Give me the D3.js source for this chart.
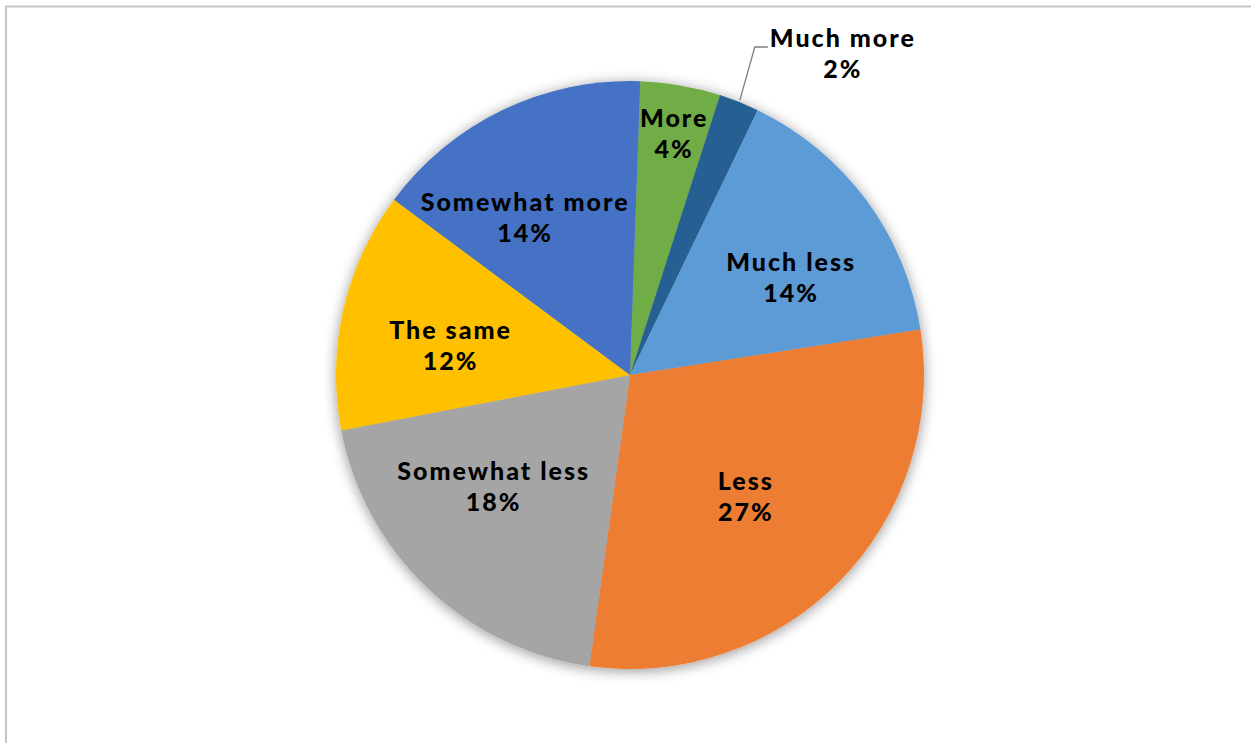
<!DOCTYPE html>
<html>
<head>
<meta charset="utf-8">
<script src="https://cdn.jsdelivr.net/npm/d3@7"></script>
<style>
  html, body { margin: 0; padding: 0; background: #fff; }
  svg { display: block; }
  .lbl { font-family: Lato, "Open Sans", sans-serif; font-weight: 900; font-size: 25px; letter-spacing: 2px; fill: #000; }
</style>
</head>
<body>
<svg id="chart" width="1251" height="743"></svg>
<script>
// Survey answers, clockwise from 12 o'clock
const categories = ["More", "Much more", "Much less", "Less", "Somewhat less", "The same", "Somewhat more"];
const shares = [4, 2, 14, 27, 18, 12, 14];
const percentLabels = ["4%", "2%", "14%", "27%", "18%", "12%", "14%"];
const sliceColors = ["#70AD47", "#255E91", "#5B9BD5", "#ED7D31", "#A5A5A5", "#FFC000", "#4472C4"];

const W = 1251, H = 743;
const cx = 630, cy = 375, R = 294;
const startDeg = 2;

// Nudges for the in-slice labels (pixels), relative to the label arc centroid
const labelNudge = {
  "More": [1, 0],
  "Much less": [14, 11],
  "Less": [-15, -6],
  "Somewhat less": [-12, -20],
  "The same": [-3, 12],
  "Somewhat more": [-27, 7]
};

const svg = d3.select("#chart");

// Chart-area frame (top and left rules)
svg.append("line").attr("x1", 6).attr("x2", W).attr("y1", 6.5).attr("y2", 6.5)
  .attr("stroke", "#c4c4c4").attr("stroke-width", 2);
svg.append("line").attr("x1", 6).attr("x2", 6).attr("y1", 6).attr("y2", H)
  .attr("stroke", "#c4c4c4").attr("stroke-width", 2);

// Soft shadow around the pie
const defs = svg.append("defs");
const f = defs.append("filter").attr("id", "pieShadow")
  .attr("x", "-20%").attr("y", "-20%").attr("width", "140%").attr("height", "140%");
f.append("feGaussianBlur").attr("in", "SourceAlpha").attr("stdDeviation", 7).attr("result", "blur");
f.append("feOffset").attr("in", "blur").attr("dx", 0).attr("dy", 2).attr("result", "off");
f.append("feComponentTransfer").attr("in", "off").attr("result", "soft")
  .append("feFuncA").attr("type", "linear").attr("slope", 0.42);
const merge = f.append("feMerge");
merge.append("feMergeNode").attr("in", "soft");
merge.append("feMergeNode").attr("in", "SourceGraphic");

const data = categories.map((c, i) => ({ cat: c, value: shares[i], pct: percentLabels[i], color: sliceColors[i] }));

const start = startDeg * Math.PI / 180;
const pie = d3.pie().sort(null).value(d => d.value).startAngle(start).endAngle(start + 2 * Math.PI);
const arcs = pie(data);

const arc = d3.arc().innerRadius(0).outerRadius(R);
const labelArc = d3.arc().innerRadius(182).outerRadius(182);
const outerLabelArc = d3.arc().innerRadius(245).outerRadius(245);

const g = svg.append("g").attr("transform", `translate(${cx},${cy})`);

g.append("g").attr("filter", "url(#pieShadow)")
  .selectAll("path").data(arcs).join("path")
  .attr("d", arc)
  .attr("fill", d => d.data.color);

// Labels inside slices
const inside = arcs.filter(d => d.data.cat !== "Much more");
const lbl = g.selectAll("text.in").data(inside).join("text")
  .attr("class", "lbl in")
  .attr("text-anchor", "middle")
  .attr("transform", d => {
    const p = (d.data.cat === "More" ? outerLabelArc : labelArc).centroid(d);
    const n = labelNudge[d.data.cat] || [0, 0];
    return `translate(${p[0] + n[0] + 1},${p[1] + n[1]})`;
  });
lbl.append("tspan").attr("x", 0).attr("y", -7).text(d => d.data.cat);
lbl.append("tspan").attr("x", 0).attr("y", 24).text(d => d.data.pct);

// Callout label for the thin slice
const thin = arcs.find(d => d.data.cat === "Much more");
const edgeArc = d3.arc().innerRadius(R + 2).outerRadius(R + 2);
const e = edgeArc.centroid(thin);
const elbow = [e[0] + 15, -328];
const tail = [elbow[0] + 13, elbow[1]];
g.append("polyline")
  .attr("points", [e, elbow, tail].map(p => p.join(",")).join(" "))
  .attr("fill", "none").attr("stroke", "#7f7f7f").attr("stroke-width", 1.3);
const call = g.append("text").attr("class", "lbl").attr("text-anchor", "middle")
  .attr("transform", `translate(${tail[0] + 75},${elbow[1]})`);
call.append("tspan").attr("x", 0).attr("y", 0).text(thin.data.cat);
call.append("tspan").attr("x", 0).attr("y", 31).text(thin.data.pct);
</script>
</body>
</html>
